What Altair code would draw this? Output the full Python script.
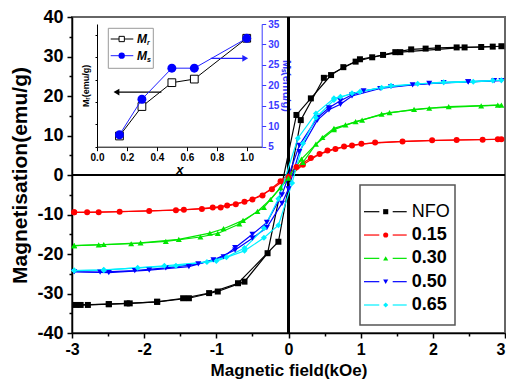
import altair as alt
import pandas as pd

# ---------------- main hysteresis loops ----------------
series_names = ["NFO", "0.15", "0.30", "0.50", "0.65"]
series_colors = ["#000000", "#FF0000", "#00E600", "#0000FF", "#00F0FF"]
series_shapes = ["square", "circle", "triangle-up", "triangle-down", "diamond"]

# NFO
nfo_down_H = [2.95, 2.67, 2.33, 2.07, 1.90, 1.70, 1.48, 1.31, 1.16, 0.93, 0.76, 0.59, 0.31, 0.11, -0.29, -0.61, -0.98, -1.38, -1.82, -2.20, -2.49, -2.78, -2.95]
nfo_down_M = [32.6, 32.4, 32.3, 32.2, 32.0, 31.8, 31.1, 30.4, 29.8, 28.7, 27.3, 25.3, 19.4, 15.2, -19.8, -27.0, -29.5, -31.2, -32.1, -32.5, -32.7, -32.9, -32.9]
nfo_up_H = [-2.88, -2.49, -2.24, -1.82, -1.46, -1.10, -0.70, -0.14, 0.17, 0.49, 0.99, 1.55, 2.44, 2.83]
nfo_up_M = [-32.9, -32.7, -32.5, -32.1, -31.2, -29.9, -27.4, -16.9, 13.9, 24.6, 29.3, 31.1, 32.3, 32.5]

# x = 0.15
r_down_H = [2.90, 2.33, 1.58, 1.01, 0.77, 0.54, 0.31, 0.11, -0.11, -0.36, -0.61, -0.85, -1.05, -1.45, -1.93, -2.63, -2.97]
r_down_M = [9.05, 8.86, 8.5, 7.9, 7.2, 6.2, 4.3, 2.0, -1.6, -5.2, -6.8, -7.7, -8.25, -8.8, -9.1, -9.4, -9.45]
r_up_H = [-2.97, -2.79, -2.34, -1.56, -1.20, -0.94, -0.73, -0.50, -0.23, 0.00, 0.20, 0.43, 0.65, 0.88, 1.20, 1.99, 2.69, 2.95]
r_up_M = [-9.45, -9.45, -9.3, -8.9, -8.6, -8.2, -7.4, -6.2, -3.6, -0.5, 2.6, 5.3, 6.6, 7.5, 8.2, 8.77, 8.95, 9.05]

# x = 0.30
g_down_H = [2.90, 2.22, 1.74, 1.29, 1.02, 0.79, 0.63, 0.47, 0.18, -0.11, -0.34, -0.63, -0.90, -1.09, -1.52, -2.05, -2.56, -2.97]
g_down_M = [17.7, 17.3, 16.6, 15.4, 13.9, 12.7, 11.8, 9.5, 4.0, -3.2, -8.2, -11.5, -13.6, -14.7, -16.3, -17.2, -17.6, -17.9]
g_up_H = [-2.97, -2.63, -2.18, -1.70, -1.22, -0.98, -0.68, -0.43, -0.25, 0.00, 0.20, 0.38, 0.63, 0.93, 1.40, 1.95, 2.67, 2.95]
g_up_M = [-17.9, -17.7, -17.4, -16.8, -15.7, -14.8, -12.4, -9.2, -6.2, -0.8, 3.2, 7.8, 11.5, 13.5, 15.8, 16.9, 17.5, 17.7]

# x = 0.50
b_down_H = [2.85, 2.49, 1.95, 1.42, 1.04, 0.88, 0.72, 0.56, 0.40, 0.15, -0.09, -0.30, -0.50, -0.74, -0.90, -1.25, -1.70, -2.13, -2.61, -2.97]
b_down_M = [23.9, 23.6, 23.2, 22.4, 21.3, 20.3, 18.8, 17.0, 14.5, 7.5, -5.0, -12.0, -15.0, -18.4, -20.7, -22.5, -23.5, -24.2, -24.6, -24.5]
b_up_H = [-2.97, -2.49, -1.93, -1.38, -1.04, -0.74, -0.50, -0.30, -0.09, 0.00, 0.15, 0.40, 0.56, 0.72, 0.88, 1.27, 1.72, 2.15, 2.49, 2.95]
b_up_M = [-24.5, -24.7, -24.1, -23.2, -21.5, -19.0, -16.0, -13.3, -7.2, -3.5, 5.9, 13.9, 16.5, 17.9, 20.0, 21.9, 22.8, 23.4, 23.6, 23.9]

# x = 0.65
c_down_H = [2.83, 2.15, 1.42, 0.99, 0.72, 0.63, 0.38, 0.13, -0.14, -0.34, -0.61, -0.86, -1.13, -1.56, -2.09, -2.56, -2.97]
c_down_M = [23.9, 23.5, 22.6, 21.1, 19.8, 19.4, 15.6, 9.3, -6.0, -13.5, -18.5, -20.8, -22.0, -23.0, -23.5, -24.0, -24.2]
c_up_H = [-2.97, -2.56, -1.72, -1.00, -0.61, -0.34, -0.14, 0.05, 0.20, 0.38, 0.63, 0.88, 1.29, 1.79, 2.56, 2.95]
c_up_M = [-24.2, -24.1, -23.0, -21.8, -19.2, -15.9, -12.7, -2.0, 8.0, 14.5, 19.0, 20.7, 22.1, 23.1, 23.6, 24.0]

branches = [
    ("NFO", "down", nfo_down_H, nfo_down_M), ("NFO", "up", nfo_up_H, nfo_up_M),
    ("0.15", "down", r_down_H, r_down_M), ("0.15", "up", r_up_H, r_up_M),
    ("0.30", "down", g_down_H, g_down_M), ("0.30", "up", g_up_H, g_up_M),
    ("0.50", "down", b_down_H, b_down_M), ("0.50", "up", b_up_H, b_up_M),
    ("0.65", "down", c_down_H, c_down_M), ("0.65", "up", c_up_H, c_up_M),
]

rows = []
for s, br, hs, ms in branches:
    for i, (h, m) in enumerate(zip(hs, ms)):
        rows.append({"series": s, "key": s + "_" + br, "order": i, "H": h, "M": m})
loops = pd.DataFrame(rows)

# axis ticks
x_major = [-3, -2, -1, 0, 1, 2, 3]
x_minor = [-2.5, -1.5, -0.5, 0.5, 1.5, 2.5]
y_major_a = [-40, -20, 0, 20, 40]
y_major_b = [-30, -10, 10, 30]
y_minor = [-35, -25, -15, -5, 5, 15, 25, 35]

# ---------------- inset data ----------------
inset_x = [0.15, 0.30, 0.50, 0.65, 1.00]
inset_Mr = [0.98, 2.30, 3.37, 3.53, 5.36]
inset_Ms = [7.9, 16.6, 24.2, 24.2, 31.5]
arrow_Mr = {"x1": [0.43], "x2": [0.13], "y": [2.95]}
arrow_Ms = {"x1": [0.76], "x2": [0.99], "y": [26.6]}

FONT = "Liberation Sans"
PX0, PY0 = 72, 17          # page position of the plot area's top-left corner
W, H = 433, 316


def px(v):  # page x -> plot x
    return v - PX0


def py(v):  # page y -> plot y
    return v - PY0


color_scale = alt.Scale(domain=series_names, range=series_colors)
shape_scale = alt.Scale(domain=series_names, range=series_shapes)
xs = alt.Scale(domain=[-3, 3], nice=False, zero=False)
ys = alt.Scale(domain=[-40, 40], nice=False, zero=False)

xmain = alt.X(
    "H:Q", scale=xs,
    axis=alt.Axis(
        title="Magnetic field(kOe)", values=x_major,
        labelExpr="'' + datum.value",
        labelAlign={"condition": {"test": "datum.value === 3", "value": "right"}, "value": "center"},
        tickSize=5, labelFontSize=16, titleFontSize=17, labelPadding=3, titlePadding=5,
        orient="bottom", labelOverlap=False, labelFlush=False,
    ),
)
ymain = alt.Y(
    "M:Q", scale=ys,
    axis=alt.Axis(
        title="Magnetisation(emu/g)", values=y_major_a,
        labelExpr="'' + datum.value",
        tickSize=5, labelFontSize=18, titleFontSize=21, labelPadding=4, titlePadding=6,
        orient="left", labelOverlap=False,
    ),
)

base = alt.Chart(loops)
lines = base.mark_line(strokeWidth=1.2).encode(
    x=xmain, y=ymain,
    color=alt.Color("series:N", scale=color_scale, legend=None),
    detail="key:N", order="order:Q",
)
points = base.mark_point(filled=True, size=36, opacity=1).encode(
    x="H:Q", y="M:Q",
    color=alt.Color("series:N", scale=color_scale, legend=None),
    shape=alt.Shape("series:N", scale=shape_scale, legend=None),
)
zero_v = base.mark_rule(color="black", strokeWidth=1.5).encode(x=alt.datum(0))
zero_h = base.mark_rule(color="black", strokeWidth=1.5).encode(y=alt.datum(0))
main = alt.layer(zero_v, zero_h, lines, points)

one = alt.Chart(pd.DataFrame({"a": [0]}))
# extra tick-only / label axes on identical scales
minor_x = one.mark_point(opacity=0).encode(
    x=alt.X("a:Q", scale=xs, axis=alt.Axis(values=x_minor, labels=False, domain=False, tickSize=3,
                                           title=None, orient="bottom")))
minor_y = one.mark_point(opacity=0).encode(
    y=alt.Y("a:Q", scale=ys, axis=alt.Axis(values=y_minor, labels=False, domain=False, tickSize=3,
                                           title=None, orient="left")))
major_y_b = one.mark_point(opacity=0).encode(
    y=alt.Y("a:Q", scale=ys, axis=alt.Axis(values=y_major_b, labelExpr="'' + datum.value", domain=False,
                                           tickSize=5, labelFontSize=18, labelPadding=4,
                                           title=None, orient="left", labelOverlap=False)))

# ---------------- inset ----------------
inset_df = pd.DataFrame({"x": inset_x, "Mr": inset_Mr, "Ms": inset_Ms})
ix_l, ix_r = px(97), px(261.7)
ir_top, ir_bot = py(24), py(146.7)
ix_scale = alt.Scale(domain=[0, 1.1], range=[ix_l, ix_r], nice=False, zero=False)
BLUE_AX = "#3A3AFF"

ix = alt.X(
    "x:Q", scale=ix_scale,
    axis=alt.Axis(
        orient="bottom", offset=-(H - ir_bot), title="x",
        values=[v / 10 for v in range(0, 12)],
        labelExpr="round(datum.value*10) % 2 === 0 ? format(datum.value, '.1f') : ''",
        tickSize={"condition": {"test": "round(datum.value*10) % 2 !== 0", "value": 2}, "value": 4},
        labelFontSize=10, titleFontSize=13, titleFontStyle="italic",
        labelPadding=2, titlePadding=1, domainWidth=1, tickWidth=1, labelOverlap=False, labelFlush=False,
    ),
)
iy_left = alt.Y(
    "Mr:Q",
    scale=alt.Scale(domain=[0.5, 6], range=[ir_bot, ir_top], nice=False, zero=False),
    axis=alt.Axis(
        orient="left", offset=-ix_l, title="Mᵣ(emu/g)",
        values=[v / 2 for v in range(1, 13)],
        labelExpr="datum.value % 1 === 0 ? '' + datum.value : ''",
        tickSize={"condition": {"test": "datum.value % 1 !== 0", "value": 2}, "value": 4},
        labelFontSize=10, titleFontSize=9, labelPadding=2, titlePadding=3,
        domainWidth=1, tickWidth=1, labelOverlap=False,
    ),
)
iy_right = alt.Y(
    "Ms:Q",
    scale=alt.Scale(domain=[5, 35], range=[ir_bot, ir_top], nice=False, zero=False),
    axis=alt.Axis(
        orient="right", offset=-(W - ix_r), title="Mₛ(emu/g)",
        values=[v / 2 for v in range(10, 71, 5)],
        labelExpr="datum.value % 5 === 0 ? '' + datum.value : ''",
        tickSize={"condition": {"test": "datum.value % 5 !== 0", "value": 2}, "value": 4},
        labelFontSize=10, titleFontSize=11, labelPadding=2, titlePadding=2,
        domainColor=BLUE_AX, tickColor=BLUE_AX, labelColor=BLUE_AX, titleColor=BLUE_AX,
        domainWidth=1, tickWidth=1, titleAngle=90, labelOverlap=False,
    ),
)

ib = alt.Chart(inset_df)
mr_line = ib.mark_line(color="black", strokeWidth=1).encode(x=ix, y=iy_left)
mr_pts = ib.mark_point(shape="square", size=60, filled=True, fill="white", stroke="black",
                       strokeWidth=1, opacity=1).encode(x="x:Q", y="Mr:Q")
a1 = alt.Chart(pd.DataFrame(arrow_Mr))
mr_arrow = a1.mark_rule(color="black", strokeWidth=1.2).encode(x="x1:Q", x2="x2:Q", y="y:Q")
mr_head = a1.mark_point(shape="triangle-left", size=45, filled=True, color="black", opacity=1).encode(
    x="x2:Q", y="y:Q")
inset_left = alt.layer(mr_line, mr_pts, mr_arrow, mr_head)

ixr = alt.X("x:Q", scale=ix_scale, axis=None)
ms_line = ib.mark_line(color="#2020FF", strokeWidth=1).encode(x=ixr, y=iy_right)
ms_pts = ib.mark_point(shape="circle", size=80, filled=True, color="#0000FF", opacity=1).encode(
    x="x:Q", y="Ms:Q")
a2 = alt.Chart(pd.DataFrame(arrow_Ms))
ms_arrow = a2.mark_rule(color="#2020FF", strokeWidth=1.2).encode(x="x1:Q", x2="x2:Q", y="y:Q")
ms_head = a2.mark_point(shape="triangle-right", size=45, filled=True, color="#2020FF", opacity=1).encode(
    x="x2:Q", y="y:Q")
inset_right = alt.layer(ms_line, ms_pts, ms_arrow, ms_head)

# inset legend (decoration)
il_box = one.mark_rect(fill="white", stroke="#999999", strokeWidth=1).encode(
    x=alt.value(px(108.3)), x2=alt.value(px(153.3)), y=alt.value(py(28.3)), y2=alt.value(py(68.3)))
il_l1 = one.mark_rule(color="black", strokeWidth=1).encode(
    x=alt.value(px(110.7)), x2=alt.value(px(133.3)), y=alt.value(py(39)))
il_p1 = one.mark_point(shape="square", size=28, filled=True, fill="white", stroke="black", strokeWidth=1,
                       opacity=1).encode(x=alt.value(px(121.7)), y=alt.value(py(39)))
il_l2 = one.mark_rule(color="#2020FF", strokeWidth=1).encode(
    x=alt.value(px(110.7)), x2=alt.value(px(133.3)), y=alt.value(py(55.7)))
il_p2 = one.mark_point(shape="circle", size=40, filled=True, color="#0000FF", opacity=1).encode(
    x=alt.value(px(121.7)), y=alt.value(py(55.7)))
il_t1 = one.mark_text(text="M", font=FONT, fontSize=12, fontWeight="bold", fontStyle="italic",
                      align="left", baseline="middle").encode(x=alt.value(px(137)), y=alt.value(py(39)))
il_s1 = one.mark_text(text="r", font=FONT, fontSize=7, fontWeight="bold", fontStyle="italic",
                      align="left", baseline="middle").encode(x=alt.value(px(147)), y=alt.value(py(43)))
il_t2 = one.mark_text(text="M", font=FONT, fontSize=12, fontWeight="bold", fontStyle="italic",
                      align="left", baseline="middle").encode(x=alt.value(px(137)), y=alt.value(py(55.7)))
il_s2 = one.mark_text(text="s", font=FONT, fontSize=7, fontWeight="bold", fontStyle="italic",
                      align="left", baseline="middle").encode(x=alt.value(px(147)), y=alt.value(py(59.7)))
inset_legend = alt.layer(il_box, il_l1, il_p1, il_l2, il_p2, il_t1, il_s1, il_t2, il_s2)

# ---------------- main legend (decoration) ----------------
leg_df = pd.DataFrame({"series": series_names})
lb = alt.Chart(leg_df)
ly = alt.Y("series:N", scale=alt.Scale(type="point", domain=series_names,
                                       range=[py(211.7), py(305)], padding=0), axis=None)
lcol = alt.Color("series:N", scale=color_scale, legend=None)
lg_box = one.mark_rect(fill="white", stroke="#555555", strokeWidth=1.5).encode(
    x=alt.value(px(360)), x2=alt.value(px(455)), y=alt.value(py(185)), y2=alt.value(py(325)))
lg_s1 = lb.mark_rule(strokeWidth=1.2).encode(x=alt.value(px(364)), x2=alt.value(px(379.3)), y=ly, color=lcol)
lg_s2 = lb.mark_rule(strokeWidth=1.2).encode(x=alt.value(px(392.7)), x2=alt.value(px(406.7)), y="series:N",
                                             color=lcol)
lg_p = lb.mark_point(filled=True, size=26, opacity=1).encode(
    x=alt.value(px(385.7)), y="series:N", color=lcol,
    shape=alt.Shape("series:N", scale=shape_scale, legend=None))
lg_t_bold = lb.transform_filter("datum.series !== 'NFO'").mark_text(
    font=FONT, fontSize=18, fontWeight="bold", align="left", baseline="middle", color="black"
).encode(x=alt.value(px(411.7)), y="series:N", text="series:N")
lg_t_norm = lb.transform_filter("datum.series === 'NFO'").mark_text(
    font=FONT, fontSize=18, fontWeight="normal", align="left", baseline="middle", color="black"
).encode(x=alt.value(px(411.7)), y="series:N", text="series:N")
legend = alt.layer(lg_box, lg_s1, lg_s2, lg_p, lg_t_bold, lg_t_norm)

chart = alt.layer(main, minor_x, minor_y, major_y_b, inset_left, inset_right, inset_legend, legend).resolve_scale(
    x="independent", y="independent"
).properties(
    width=W, height=H, autosize=alt.AutoSizeParams(type="none"),
    padding={"left": PX0 - 8, "top": PY0 - 8, "right": 498 - (PX0 - 8) - W, "bottom": 375 - (PY0 - 8) - H},
).configure_view(
    stroke="#666666", strokeWidth=2
).configure_axis(
    grid=False, domainColor="black", tickColor="black", labelColor="black", titleColor="black",
    domainWidth=1.5, tickWidth=1.5, labelFont=FONT, titleFont=FONT,
    labelFontWeight="bold", titleFontWeight="bold",
)

chart.save("out.html", embed_options={"renderer": "svg", "actions": False})
